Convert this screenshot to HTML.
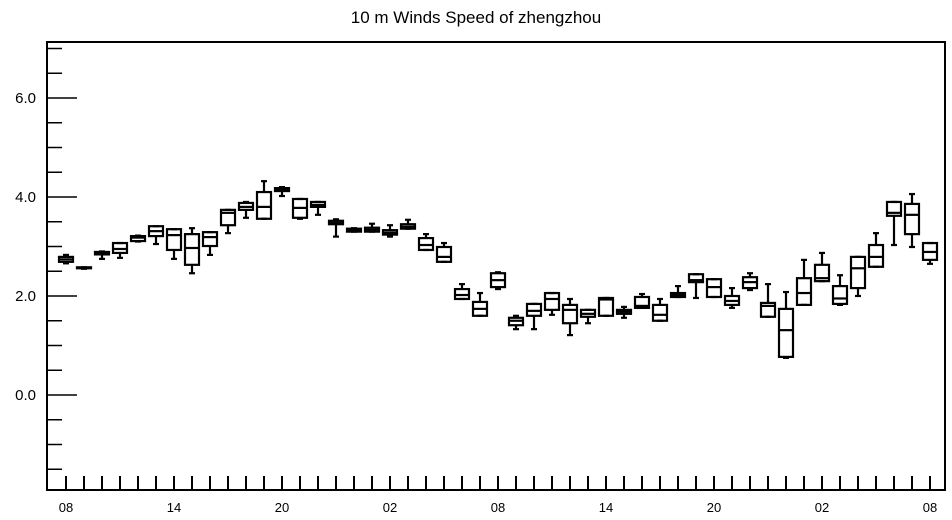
<!DOCTYPE html>
<html><head><meta charset="utf-8"><style>
html,body{margin:0;padding:0;background:#fff;}
svg{display:block;font-family:"Liberation Sans",Arial,sans-serif;}
</style></head><body>
<svg id="chart" width="952" height="520" viewBox="0 0 952 520">
<text x="476" y="23" text-anchor="middle" font-size="17">10 m Winds Speed of zhengzhou</text>
<g id="axes"></g>
<g id="boxes"></g>
</svg>
<script>
const xLabels = ["08","14","20","02","08","14","20","02","08"];
const yTicks = [0, 2, 4, 6];
const yTickLabels = ["0.0","2.0","4.0","6.0"];
const minV = [2.66,2.55,2.75,2.77,3.10,3.05,2.75,2.46,2.83,3.27,3.58,3.56,4.02,3.56,3.64,3.20,3.30,3.30,3.20,3.36,2.93,2.69,1.94,1.60,2.14,1.33,1.33,1.62,1.21,1.45,1.60,1.56,1.76,1.50,1.98,1.96,1.98,1.76,2.12,1.58,0.75,1.82,2.30,1.82,2.00,2.59,3.03,2.99,2.65];
const q1V  = [2.69,2.56,2.84,2.87,3.11,3.21,2.93,2.63,3.01,3.43,3.74,3.56,4.12,3.58,3.80,3.45,3.30,3.30,3.24,3.36,2.93,2.69,1.94,1.60,2.18,1.41,1.60,1.72,1.45,1.58,1.60,1.64,1.76,1.50,1.98,2.28,1.98,1.82,2.16,1.58,0.77,1.82,2.30,1.84,2.16,2.59,3.62,3.25,2.73];
const medV = [2.74,2.57,2.86,2.95,3.18,3.31,3.23,2.97,3.19,3.68,3.80,3.80,4.15,3.78,3.84,3.48,3.33,3.34,3.28,3.40,3.03,2.79,2.02,1.74,2.32,1.50,1.70,1.94,1.72,1.64,1.93,1.68,1.80,1.62,2.02,2.32,2.18,1.90,2.28,1.80,1.31,2.06,2.36,1.95,2.56,2.79,3.68,3.64,2.89];
const q3V  = [2.79,2.58,2.89,3.07,3.21,3.41,3.35,3.25,3.29,3.74,3.88,4.10,4.18,3.96,3.90,3.52,3.36,3.38,3.33,3.45,3.17,2.99,2.14,1.88,2.46,1.56,1.84,2.06,1.82,1.72,1.96,1.72,1.98,1.82,2.06,2.44,2.34,2.00,2.38,1.86,1.74,2.36,2.63,2.20,2.79,3.03,3.90,3.86,3.07];
const maxV = [2.83,2.58,2.90,3.07,3.22,3.41,3.35,3.37,3.29,3.74,3.90,4.32,4.20,3.96,3.90,3.55,3.37,3.46,3.43,3.54,3.25,3.07,2.24,2.06,2.48,1.60,1.84,2.06,1.94,1.72,1.96,1.78,2.04,1.94,2.20,2.44,2.34,2.16,2.46,2.24,2.08,2.73,2.87,2.42,2.79,3.27,3.90,4.06,3.07];

const L=47,R=945,T=42,B=490;
const yMin=-1.92,yMax=7.13;
const X0=66,DX=18;
const yS=v=>395-(v)*49.5;
const xS=i=>X0+i*DX;
const NS='http://www.w3.org/2000/svg';
function mk(tag,attrs,parent){const e=document.createElementNS(NS,tag);for(const k in attrs)e.setAttribute(k,attrs[k]);parent.appendChild(e);return e;}
const axes=document.getElementById('axes');
const frame=mk('rect',{x:L,y:T,width:R-L,height:B-T,fill:'none',stroke:'#000','stroke-width':2},axes);


// y minor ticks
for(let v=-1.5;v<=7;v+=0.5){
  const major=Math.abs(v%2)<1e-6;
  const t=mk('line',{x1:L,x2:L+(major?30:15),y1:yS(v),y2:yS(v),stroke:'#000','stroke-width':1.5},axes);
  
  
}
yTicks.forEach((v,i)=>{
  const t=mk('text',{x:36,y:yS(v)+5,'text-anchor':'end','font-size':15},axes);
  t.textContent=yTickLabels[i];
  
  
});
for(let i=0;i<minV.length;i++){
  const t=mk('line',{x1:xS(i),x2:xS(i),y1:B,y2:B-14,stroke:'#000','stroke-width':2},axes);
  
  
}
xLabels.forEach((s,i)=>{
  const t=mk('text',{x:xS(i*6),y:512,'text-anchor':'middle','font-size':13},axes);
  t.textContent=s;
  
  
});
const boxes=document.getElementById('boxes');
const hw=7,cw=3;
for(let i=0;i<minV.length;i++){
  const g=mk('g',{stroke:'#000','stroke-width':2.2,fill:'none'},boxes);
  
  
  const x=xS(i);
  mk('line',{x1:x,x2:x,y1:yS(maxV[i]),y2:yS(q3V[i])},g);
  mk('line',{x1:x,x2:x,y1:yS(q1V[i]),y2:yS(minV[i])},g);
  mk('line',{x1:x-cw,x2:x+cw,y1:yS(maxV[i]),y2:yS(maxV[i])},g);
  mk('line',{x1:x-cw,x2:x+cw,y1:yS(minV[i]),y2:yS(minV[i])},g);
  mk('rect',{x:x-hw,y:yS(q3V[i]),width:2*hw,height:Math.max(1,yS(q1V[i])-yS(q3V[i]))},g);
  mk('line',{x1:x-hw,x2:x+hw,y1:yS(medV[i]),y2:yS(medV[i])},g);
}
</script>
</body></html>
